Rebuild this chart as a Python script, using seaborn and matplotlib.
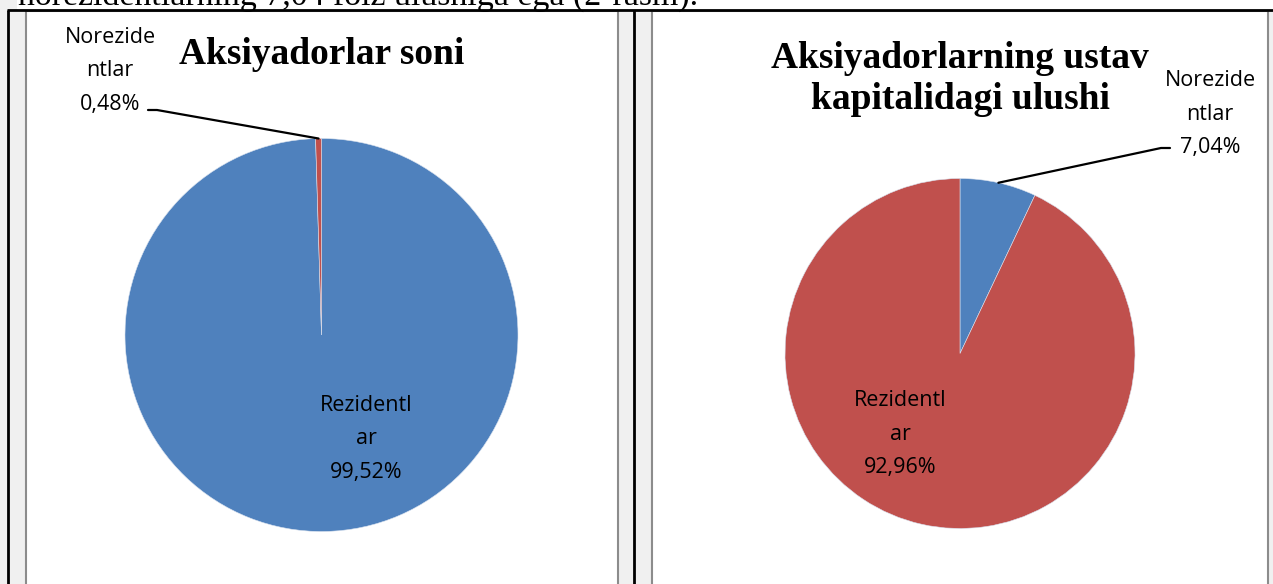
import matplotlib
matplotlib.use("Agg")
import matplotlib.pyplot as plt
from matplotlib.patches import Rectangle
import numpy as np
import seaborn as sns

# ---- data ----
categories_left = ["Rezidentlar", "Norezidentlar"]
values_left = [99.52, 0.48]
wrapped_left = ["Rezidentl\nar", "Norezide\nntlar"]
title_left = "Aksiyadorlar soni"

categories_right = ["Norezidentlar", "Rezidentlar"]
values_right = [7.04, 92.96]
wrapped_right = ["Norezide\nntlar", "Rezidentl\nar"]
title_right = "Aksiyadorlarning ustav\nkapitalidagi ulushi"

top_text = "norezidentlarning 7,04 foiz ulushiga ega (2-rasm)."

sns.set_style("white")
plt.rcParams['font.family'] = ['Open Sans', 'DejaVu Sans']

BLUE = "#4F81BD"
RED = "#C0504D"
pal = sns.color_palette([BLUE, RED])

W, H = 1273, 584
fig = plt.figure(figsize=(W / 100, H / 100), dpi=100)
fig.patch.set_facecolor("#F0F0F0")

bg = fig.add_axes([0, 0, 1, 1])
bg.set_xlim(0, W)
bg.set_ylim(H, 0)
bg.axis("off")

# decoration: white top strip, chart frames, table lines
bg.add_patch(Rectangle((17, -5), W, 14.5, fc="white", ec="none", zorder=0))
bg.add_patch(Rectangle((25.5, 10.5), 592, 620, fc="white", ec="#8C8C8C", lw=1.5, zorder=1))
bg.add_patch(Rectangle((651.5, 10.5), 616.5, 620, fc="white", ec="#8C8C8C", lw=1.5, zorder=1))
bg.plot([7, W], [9.5, 9.5], color="black", lw=2, zorder=2, solid_capstyle="butt")
for xv in (7.5, 633.5):
    bg.plot([xv, xv], [9.5, H + 5], color="black", lw=2, zorder=2, solid_capstyle="butt")

bg.text(18, 5, top_text, family=["Liberation Serif"], fontsize=24.4, ha="left",
        va="baseline", color="black", zorder=3)


def pie_axes(cx, cy, r):
    return fig.add_axes([(cx - r) / W, (H - cy - r) / H, 2 * r / W, 2 * r / H])


def slice_point(values, idx, cx, cy, r):
    tot = sum(values)
    start = 90 - 360 * sum(values[:idx]) / tot
    mid = start - 180 * values[idx] / tot
    a = np.deg2rad(mid)
    return cx + r * np.cos(a), cy - r * np.sin(a)


def fmt(v):
    return f"{v:.2f}%".replace(".", ",")


# ---- pies ----
cxL, cyL, rL = 321.5, 335, 196.5
axL = pie_axes(cxL, cyL, rL)
axL.pie(values_left, colors=pal, startangle=90, counterclock=False, radius=1,
        wedgeprops=dict(linewidth=0.4, edgecolor="#d9e2ef"))
axL.set_xlim(-1, 1)
axL.set_ylim(-1, 1)
axL.axis("off")

cxR, cyR, rR = 960, 353.5, 175
axR = pie_axes(cxR, cyR, rR)
axR.pie(values_right, colors=pal, startangle=90, counterclock=False, radius=1,
        wedgeprops=dict(linewidth=0.4, edgecolor="#d9e2ef"))
axR.set_xlim(-1, 1)
axR.set_ylim(-1, 1)
axR.axis("off")

# ---- overlay for titles, labels and leader lines ----
ov = fig.add_axes([0, 0, 1, 1])
ov.set_xlim(0, W)
ov.set_ylim(H, 0)
ov.axis("off")
ov.patch.set_alpha(0)

label_kw = dict(fontsize=15.5, ha="center", va="center", linespacing=1.8, color="black", zorder=5)
title_kw = dict(family=["Liberation Serif"], fontweight="bold", fontsize=27, ha="center",
                va="center", color="black", zorder=5, linespacing=1.22)

ov.text(322, 55, title_left, **title_kw)
ov.text(366, 439, f"{wrapped_left[0]}\n{fmt(values_left[0])}", **label_kw)
ov.text(110, 71, f"{wrapped_left[1]}\n{fmt(values_left[1])}", **label_kw)
px, py = slice_point(values_left, 1, cxL, cyL, rL)
ov.plot([148, 157, px], [110, 110, py], color="black", lw=1.6, zorder=4)

ov.text(960, 79, title_right, **title_kw)
ov.text(900, 434, f"{wrapped_right[1]}\n{fmt(values_right[1])}", **label_kw)
ov.text(1210, 114, f"{wrapped_right[0]}\n{fmt(values_right[0])}", **label_kw)
px, py = slice_point(values_right, 0, cxR, cyR, rR)
ov.plot([1170, 1161, px], [148, 148, py], color="black", lw=1.6, zorder=4)

fig.savefig("out.png", dpi=100, facecolor=fig.get_facecolor())
